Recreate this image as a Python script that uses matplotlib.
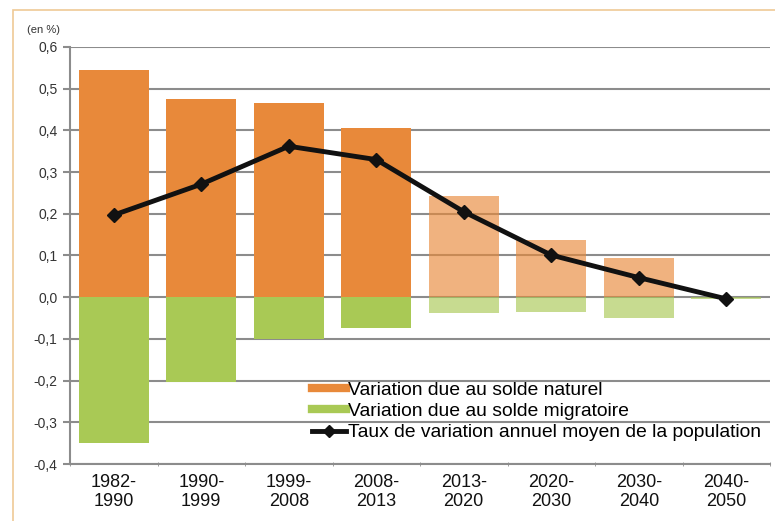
import matplotlib
matplotlib.use("Agg")
import matplotlib.pyplot as plt
from matplotlib.lines import Line2D
from matplotlib.patches import Rectangle
import numpy as np

plt.rcParams['font.family'] = ['Liberation Sans', 'DejaVu Sans']

categories = ["1982-\n1990", "1990-\n1999", "1999-\n2008", "2008-\n2013",
              "2013-\n2020", "2020-\n2030", "2030-\n2040", "2040-\n2050"]
naturel = [0.545, 0.475, 0.465, 0.405, 0.243, 0.137, 0.095, 0.0]
migratoire = [-0.350, -0.204, -0.101, -0.073, -0.037, -0.035, -0.049, -0.004]
taux = [0.197, 0.271, 0.362, 0.330, 0.205, 0.101, 0.047, -0.004]
projection = [False, False, False, False, True, True, True, True]
yticks = [-0.4, -0.3, -0.2, -0.1, 0.0, 0.1, 0.2, 0.3, 0.4, 0.5, 0.6]

orange = "#E8893A"
green = "#A9C955"
grid_c = "#8C8C8C"

fig = plt.figure(figsize=(7.75, 5.21), dpi=100)
ax = fig.add_axes([70/775, 1-464/521, 700/775, 417/521])

# figure border
fig.patches.append(Rectangle((13/775, -0.1), 1.2, 1 - 9.5/521 + 0.1,
                             transform=fig.transFigure, fill=False,
                             edgecolor="#EFC996", linewidth=1.2))

x = np.arange(len(categories))
for i in range(len(categories)):
    a = 0.65 if projection[i] else 1.0
    ax.bar(x[i], naturel[i], width=0.8, color=orange, alpha=a, zorder=3, linewidth=0)
    ax.bar(x[i], migratoire[i], width=0.8, color=green, alpha=a, zorder=3, linewidth=0)

ax.plot(x, taux, color="#111111", linewidth=3.5, marker="D", markersize=7, zorder=5)

ax.set_xlim(-0.5, len(categories) - 0.5)
ax.set_ylim(-0.4, 0.6)
ax.set_yticks(yticks)
ax.set_yticklabels([f"{v:.1f}".replace(".", ",") for v in yticks])
ax.yaxis.grid(True, color=grid_c, linewidth=1.5, zorder=0)
ax.set_axisbelow(True)

ax.set_xticks(x)
ax.set_xticklabels(categories, fontsize=13, color="#111111", linespacing=1.2)
ax.set_xticks(np.arange(len(categories) + 1) - 0.5, minor=True)
ax.tick_params(axis="x", which="major", length=0, pad=7)
ax.tick_params(axis="x", which="minor", length=3, color=grid_c, direction="inout")
ax.tick_params(axis="y", length=5, color=grid_c, width=1.5, labelsize=10,
               labelcolor="#333333", pad=4)

for s in ["top", "right"]:
    ax.spines[s].set_visible(False)
for s in ["left", "bottom"]:
    ax.spines[s].set_color(grid_c)
    ax.spines[s].set_linewidth(1.5)

fig.text(27/775, 1-30/521, "(en %)", fontsize=8, color="#333333", va="center")

handles = [Line2D([0], [0], color=orange, linewidth=6),
           Line2D([0], [0], color=green, linewidth=6),
           Line2D([0], [0], color="#111111", linewidth=3.5, marker="D", markersize=6)]
labels = ["Variation due au solde naturel", "Variation due au solde migratoire",
          "Taux de variation annuel moyen de la population"]
leg = fig.legend(handles, labels, loc="upper left",
                 bbox_to_anchor=(312/775, 1 - 381/521), bbox_transform=fig.transFigure,
                 frameon=False, fontsize=13.9, handlelength=1.75, handletextpad=0.1,
                 labelspacing=0.2, borderaxespad=0, borderpad=0)

fig.savefig("out.png", dpi=100)
